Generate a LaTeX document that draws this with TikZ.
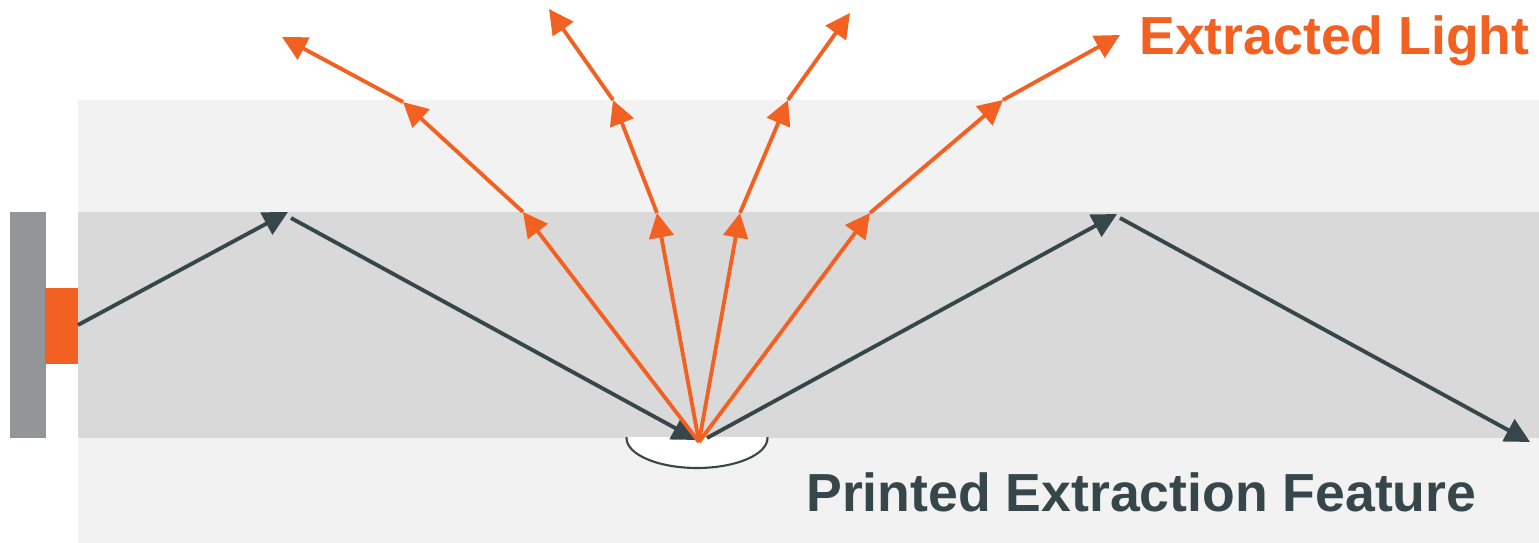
\documentclass[tikz,border=0pt]{standalone}
\usepackage{fontspec}
\setmainfont{Liberation Sans}
\usetikzlibrary{arrows.meta}
\definecolor{orng}{HTML}{F26122}
\definecolor{dk}{HTML}{36464A}
\definecolor{bgl}{HTML}{F2F2F2}
\definecolor{bandc}{HTML}{D9D9D9}
\definecolor{barc}{HTML}{939598}
\begin{document}
\begin{tikzpicture}[x=0.02cm,y=-0.02cm,
  ray/.style={line width=2.2pt,-{Triangle[length=14pt,width=14pt]}},
  darkray/.style={ray,draw=dk},
  lightray/.style={ray,draw=orng},
  lbl/.style={anchor=base west,inner sep=0pt,font=\bfseries\fontsize{30.5}{32}\selectfont}]
\useasboundingbox (0,0) rectangle (1539,543);
% layers
\fill[bgl] (78,100) rectangle (1539,543);
\fill[bandc] (78,212) rectangle (1539,438);
\fill[barc] (10,212) rectangle (46,438);
\fill[orng] (45,288) rectangle (78,364);
% extraction feature
\begin{scope}
\clip (600,438) rectangle (800,480);
\draw[dk,line width=1.2pt,fill=white] (697,438) ellipse [x radius=1.41cm,y radius=0.6cm];
\end{scope}
% coordinates
\coordinate (led) at (78,325);
\coordinate (d1) at (288,212);
\coordinate (d1s) at (291,218);
\coordinate (feat) at (697,440);
\coordinate (d2s) at (707,438);
\coordinate (d2) at (1117,214);
\coordinate (d2o) at (1120,218);
\coordinate (d3) at (1530,442);
\coordinate (o) at (699,442);
\coordinate (a1) at (523,212); \coordinate (a2) at (403,102); \coordinate (a3) at (282,37);
\coordinate (b1) at (657,213); \coordinate (b2) at (613,100); \coordinate (b3) at (549,9);
\coordinate (c1) at (740,213); \coordinate (c2) at (788,100); \coordinate (c3) at (850,13);
\coordinate (e1) at (870,213); \coordinate (e2) at (1003,100); \coordinate (e3) at (1120,35);
% dark rays
\draw[darkray] (led) -- (d1);
\draw[darkray] (d1s) -- (feat);
\draw[darkray] (d2s) -- (d2);
\draw[darkray] (d2o) -- (d3);
% orange rays
\foreach \r in {a,b,c,e}{
  \draw[lightray] (o) -- (\r1);
  \draw[lightray] (\r1) -- (\r2);
  \draw[lightray] (\r2) -- (\r3);
}
% labels
\node[lbl,text=orng] (extracted) at (1139,55) {Extracted Light};
\node[lbl,text=dk] (printed) at (806,512) {Printed Extraction Feature};
\end{tikzpicture}
\end{document}
